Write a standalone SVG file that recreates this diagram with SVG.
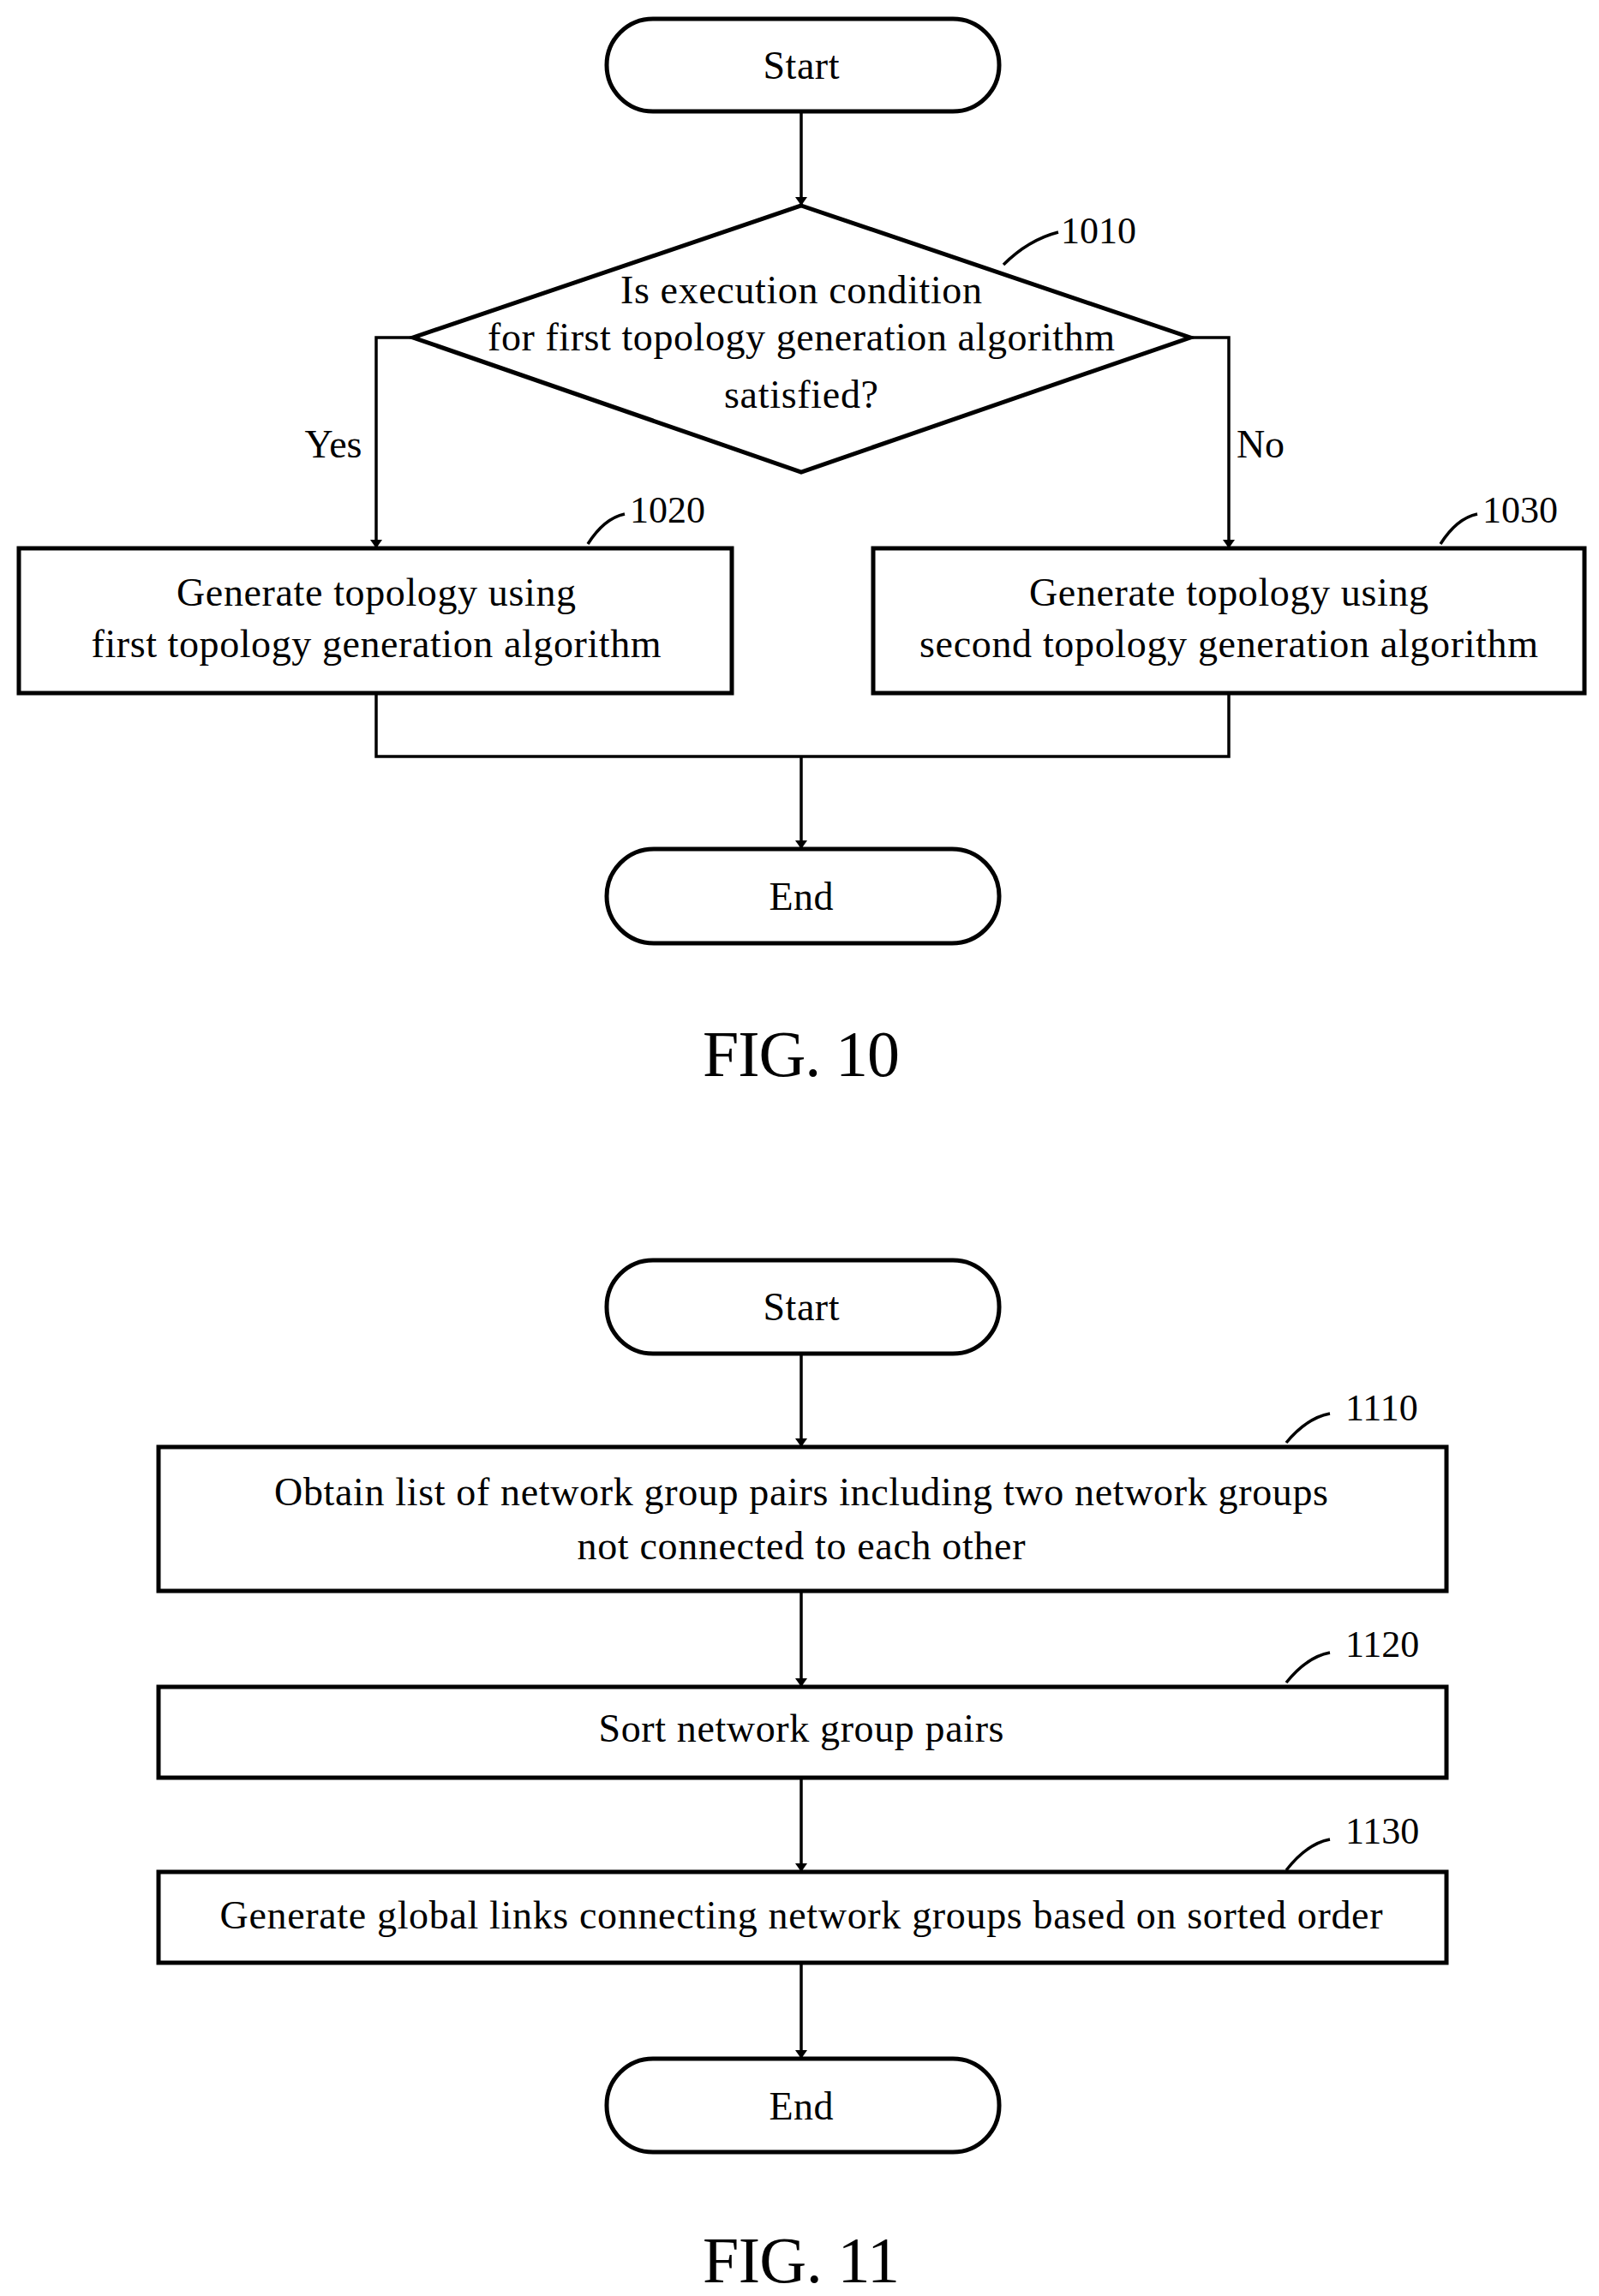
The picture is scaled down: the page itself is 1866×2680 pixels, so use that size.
<svg xmlns="http://www.w3.org/2000/svg" width="1866" height="2680" viewBox="0 0 1866 2680">
<defs>
<marker id="ah" markerWidth="10" markerHeight="14" refX="10" refY="7" orient="auto" markerUnits="userSpaceOnUse" viewBox="0 0 10 14"><path d="M0,0 L10,7 L0,14 z" fill="#000"/></marker>
<style>
.s{fill:#fff;stroke:#000;stroke-width:5}
.l{fill:none;stroke:#000;stroke-width:3.5}
.t{font-family:"Liberation Serif",serif;font-size:46px;text-anchor:middle;dominant-baseline:central;fill:#000}
.lb{font-family:"Liberation Serif",serif;font-size:44px;text-anchor:start;dominant-baseline:central;fill:#000}
.f{font-family:"Liberation Serif",serif;font-size:76px;text-anchor:middle;dominant-baseline:central;fill:#000}
</style>
</defs>
<rect width="1866" height="2680" fill="#fff"/>
<g id="connectors">
<line class="l" x1="935" y1="130" x2="935" y2="240" marker-end="url(#ah)"/>
<polyline class="l" points="482,394 439,394 439,640" marker-end="url(#ah)"/>
<polyline class="l" points="1389,394 1434,394 1434,640" marker-end="url(#ah)"/>
<polyline class="l" points="439,809 439,883 1434,883 1434,809"/>
<line class="l" x1="935" y1="883" x2="935" y2="991" marker-end="url(#ah)"/>
<line class="l" x1="935" y1="1580" x2="935" y2="1689" marker-end="url(#ah)"/>
<line class="l" x1="935" y1="1857" x2="935" y2="1969" marker-end="url(#ah)"/>
<line class="l" x1="935" y1="2075" x2="935" y2="2185" marker-end="url(#ah)"/>
<line class="l" x1="935" y1="2291" x2="935" y2="2403" marker-end="url(#ah)"/>
<text class="t" x="389" y="518">Yes</text>
<text class="t" x="1471" y="518">No</text>
</g>
<g id="start10"><rect class="s" x="708" y="22" width="458" height="108" rx="54"/><text class="t" x="935" y="76" textLength="89">Start</text></g>
<g id="n1010"><polygon class="s" points="935,240 1389,394 935,551 482,394"/>
<text class="t" x="935" y="338" textLength="422">Is execution condition</text>
<text class="t" x="935" y="393" textLength="732">for first topology generation algorithm</text>
<text class="t" x="935" y="460" textLength="180">satisfied?</text>
<path class="l" d="M1171,309 Q1200,280 1235,271"/><text class="lb" x="1238" y="269">1010</text></g>
<g id="n1020"><rect class="s" x="22" y="640" width="832" height="169"/>
<text class="t" x="439" y="691" textLength="466">Generate topology using</text>
<text class="t" x="439" y="751" textLength="665">first topology generation algorithm</text>
<path class="l" d="M686,635 Q705,605 729,600"/><text class="lb" x="735" y="595">1020</text></g>
<g id="n1030"><rect class="s" x="1019" y="640" width="830" height="169"/>
<text class="t" x="1434" y="691" textLength="466">Generate topology using</text>
<text class="t" x="1434" y="751" textLength="722">second topology generation algorithm</text>
<path class="l" d="M1681,635 Q1700,605 1724,600"/><text class="lb" x="1730" y="595">1030</text></g>
<g id="end10"><rect class="s" x="708" y="991" width="458" height="110" rx="55"/><text class="t" x="935" y="1046" textLength="75">End</text></g>
<text class="f" x="935" y="1230" textLength="230">FIG. 10</text>
<g id="start11"><rect class="s" x="708" y="1471" width="458" height="109" rx="54"/><text class="t" x="935" y="1525" textLength="89">Start</text></g>
<g id="n1110"><rect class="s" x="185" y="1689" width="1503" height="168"/>
<text class="t" x="935" y="1741" textLength="1230">Obtain list of network group pairs including two network groups</text>
<text class="t" x="935" y="1804" textLength="523">not connected to each other</text>
<path class="l" d="M1501,1684 Q1525,1655 1552,1650"/><text class="lb" x="1570" y="1643">1110</text></g>
<g id="n1120"><rect class="s" x="185" y="1969" width="1503" height="106"/>
<text class="t" x="935" y="2017" textLength="473">Sort network group pairs</text>
<path class="l" d="M1501,1964 Q1525,1934 1552,1929"/><text class="lb" x="1570" y="1919">1120</text></g>
<g id="n1130"><rect class="s" x="185" y="2185" width="1503" height="106"/>
<text class="t" x="935" y="2235" textLength="1357">Generate global links connecting network groups based on sorted order</text>
<path class="l" d="M1501,2183 Q1525,2152 1552,2147"/><text class="lb" x="1570" y="2137">1130</text></g>
<g id="end11"><rect class="s" x="708" y="2403" width="458" height="109" rx="54"/><text class="t" x="935" y="2458" textLength="75">End</text></g>
<text class="f" x="935" y="2638" textLength="230">FIG. 11</text>
</svg>
